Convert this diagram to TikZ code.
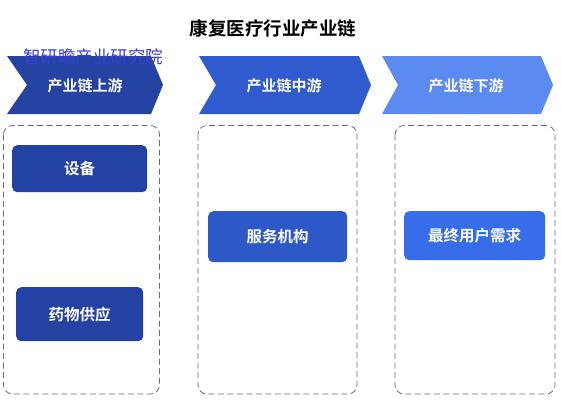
\documentclass[tikz,border=0pt]{standalone}
\usepackage{fontspec}
\newfontfamily\cjk{Noto Sans CJK SC}
\newfontfamily\cjkb{Noto Sans CJK SC Bold}
\definecolor{cA}{HTML}{2443A2}
\definecolor{cB}{HTML}{2F5BCE}
\definecolor{cC}{HTML}{5B8AF0}
\definecolor{bA}{HTML}{2442A4}
\definecolor{bB}{HTML}{2D58C8}
\definecolor{bC}{HTML}{376DE8}
\definecolor{wm}{HTML}{3B3ED6}
\definecolor{dash}{HTML}{6A6E78}
\tikzset{
  chev/.style={fill=#1},
  chevtext/.style={text=white,font=\cjkb\fontsize{15}{17}\selectfont},
  item/.style={fill=#1,rounded corners=5pt,text=white,font=\cjkb\fontsize{15.5}{17}\selectfont,anchor=north west,inner sep=0pt},
  panel/.style={draw=dash,dashed,dash pattern=on 6pt off 3.5pt,line width=0.8pt,rounded corners=9pt},
}
\begin{document}
\begin{tikzpicture}[x=1pt,y=-1pt]
\useasboundingbox (0,0) rectangle (561,400);
\fill[white] (0,0) rectangle (561,400);
% title
\node (title) at (273,28) {\cjkb\fontsize{18.5}{20}\selectfont 康复医疗行业产业链};
% chevrons
\fill[chev=cA] (7,56) -- (151,56) -- (163,85) -- (151,114) -- (7,114) -- (27,85) -- cycle;
\fill[chev=cB] (199,56) -- (359,56) -- (371,85) -- (359,114) -- (199,114) -- (216,85) -- cycle;
\fill[chev=cC] (382,56) -- (541,56) -- (553,85) -- (541,114) -- (382,114) -- (398,85) -- cycle;
\node[chevtext] (c1) at (85,86) {产业链上游};
\node[chevtext] (c2) at (284,86) {产业链中游};
\node[chevtext] (c3) at (466,86) {产业链下游};
% watermark
\node[text=wm,font=\cjk\fontsize{17.5}{19}\selectfont] (wmk) at (93,57) {智研瞻产业研究院};
% panels
\draw[panel] (3.5,125.5) rectangle (159.5,394);
\draw[panel] (198,125.5) rectangle (357,394);
\draw[panel] (395,125.5) rectangle (555,394);
% items
\node[item=bA,minimum width=135pt,minimum height=47pt] (i1) at (12,145) {设备};
\node[item=bA,minimum width=127pt,minimum height=54pt] (i2) at (16,287) {药物供应};
\node[item=bB,minimum width=139pt,minimum height=51pt] (i3) at (208,211) {服务机构};
\node[item=bC,minimum width=141pt,minimum height=49pt] (i4) at (404,211) {最终用户需求};
\end{tikzpicture}
\end{document}
